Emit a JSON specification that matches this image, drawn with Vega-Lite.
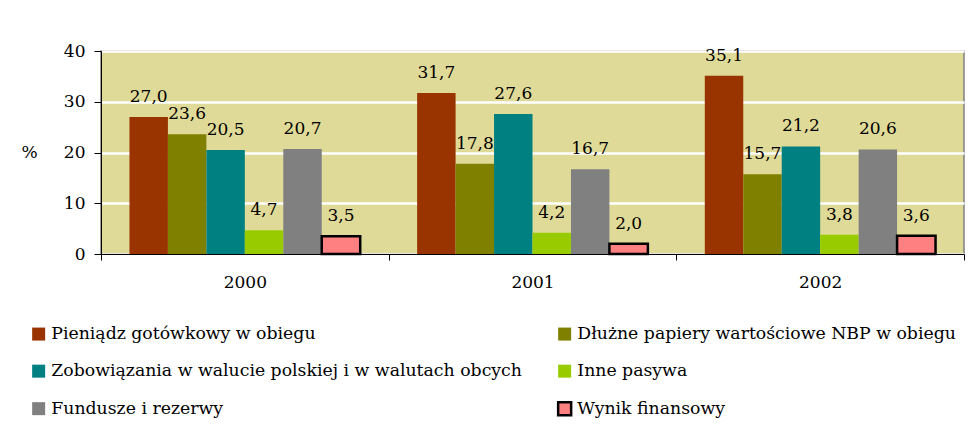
{
  "$schema": "https://vega.github.io/schema/vega-lite/v6.json",
  "autosize": {"type": "none"},
  "width": 863,
  "height": 203,
  "padding": {"left": 101, "top": 51, "right": 7, "bottom": 178},
  "background": "#ffffff",
  "data": {
    "values": [
      {"year": "2000", "series": "Pieniądz gotówkowy w obiegu", "value": 27.0},
      {"year": "2000", "series": "Dłużne papiery wartościowe NBP w obiegu", "value": 23.6},
      {"year": "2000", "series": "Zobowiązania w walucie polskiej i w walutach obcych", "value": 20.5},
      {"year": "2000", "series": "Inne pasywa", "value": 4.7},
      {"year": "2000", "series": "Fundusze i rezerwy", "value": 20.7},
      {"year": "2000", "series": "Wynik finansowy", "value": 3.5},
      {"year": "2001", "series": "Pieniądz gotówkowy w obiegu", "value": 31.7},
      {"year": "2001", "series": "Dłużne papiery wartościowe NBP w obiegu", "value": 17.8},
      {"year": "2001", "series": "Zobowiązania w walucie polskiej i w walutach obcych", "value": 27.6},
      {"year": "2001", "series": "Inne pasywa", "value": 4.2},
      {"year": "2001", "series": "Fundusze i rezerwy", "value": 16.7},
      {"year": "2001", "series": "Wynik finansowy", "value": 2.0},
      {"year": "2002", "series": "Pieniądz gotówkowy w obiegu", "value": 35.1},
      {"year": "2002", "series": "Dłużne papiery wartościowe NBP w obiegu", "value": 15.7},
      {"year": "2002", "series": "Zobowiązania w walucie polskiej i w walutach obcych", "value": 21.2},
      {"year": "2002", "series": "Inne pasywa", "value": 3.8},
      {"year": "2002", "series": "Fundusze i rezerwy", "value": 20.6},
      {"year": "2002", "series": "Wynik finansowy", "value": 3.6}
    ]
  },
  "encoding": {
    "x": {
      "field": "year", "type": "nominal",
      "scale": {"paddingInner": 0, "paddingOuter": 0},
      "axis": {
        "title": null, "labelAngle": 0, "tickBand": "extent", "tickSize": 6,
        "labelPadding": 14, "labelFontSize": 17, "domainColor": "#000000",
        "tickColor": "#000000", "labelColor": "#000000", "grid": false
      }
    },
    "xOffset": {
      "field": "series", "type": "nominal",
      "scale": {
        "paddingInner": 0, "paddingOuter": 0.74,
        "domain": [
          "Pieniądz gotówkowy w obiegu",
          "Dłużne papiery wartościowe NBP w obiegu",
          "Zobowiązania w walucie polskiej i w walutach obcych",
          "Inne pasywa",
          "Fundusze i rezerwy",
          "Wynik finansowy"
        ]
      }
    },
    "y": {
      "field": "value", "type": "quantitative",
      "scale": {"domain": [0, 40], "nice": false},
      "axis": {
        "values": [0, 10, 20, 30, 40], "title": "%", "titleAngle": 0,
        "titleX": -72, "titleY": 101, "titleAlign": "center", "titleBaseline": "middle",
        "titleFontSize": 17, "titleFontWeight": "normal", "titleColor": "#000000",
        "labelFontSize": 17, "labelColor": "#000000", "labelPadding": 9, "tickSize": 7,
        "tickColor": "#000000", "domainColor": "#000000",
        "grid": true, "gridColor": "#ffffff", "gridWidth": 2.5
      }
    }
  },
  "layer": [
    {
      "mark": {"type": "bar", "strokeWidth": 2.5},
      "encoding": {
        "fill": {
          "field": "series", "type": "nominal",
          "scale": {
            "domain": [
              "Pieniądz gotówkowy w obiegu",
              "Zobowiązania w walucie polskiej i w walutach obcych",
              "Fundusze i rezerwy",
              "Dłużne papiery wartościowe NBP w obiegu",
              "Inne pasywa",
              "Wynik finansowy"
            ],
            "range": ["#993300", "#008080", "#808080", "#808000", "#99CC00", "#FF8080"]
          },
          "legend": {
            "title": null, "orient": "none", "legendX": -71, "legendY": 274,
            "columns": 2, "columnPadding": 31, "rowPadding": 13.5,
            "symbolType": "square", "symbolSize": 169, "symbolStrokeWidth": 2.5,
            "labelFontSize": 17.3, "labelOffset": 4, "labelLimit": 700,
            "labelColor": "#000000", "padding": 0
          }
        },
        "stroke": {
          "field": "series", "type": "nominal",
          "scale": {
            "domain": [
              "Pieniądz gotówkowy w obiegu",
              "Zobowiązania w walucie polskiej i w walutach obcych",
              "Fundusze i rezerwy",
              "Dłużne papiery wartościowe NBP w obiegu",
              "Inne pasywa",
              "Wynik finansowy"
            ],
            "range": ["transparent", "transparent", "transparent", "transparent", "transparent", "#000000"]
          },
          "legend": {
            "title": null, "orient": "none", "legendX": -71, "legendY": 274,
            "columns": 2, "columnPadding": 31, "rowPadding": 13.5,
            "symbolType": "square", "symbolSize": 169, "symbolStrokeWidth": 2.5,
            "labelFontSize": 17.3, "labelOffset": 4, "labelLimit": 700,
            "labelColor": "#000000", "padding": 0
          }
        }
      }
    },
    {
      "mark": {"type": "text", "baseline": "alphabetic", "dy": -15, "fontSize": 17, "color": "#000000"},
      "encoding": {
        "text": {"field": "value", "type": "quantitative", "format": ".1f"}
      }
    }
  ],
  "config": {
    "font": "DejaVu Serif",
    "locale": {"number": {"decimal": ",", "thousands": " ", "grouping": [3], "currency": ["", " zł"]}},
    "view": {"fill": "#E0DA98", "stroke": "#808080", "strokeWidth": 1.5}
  }
}
